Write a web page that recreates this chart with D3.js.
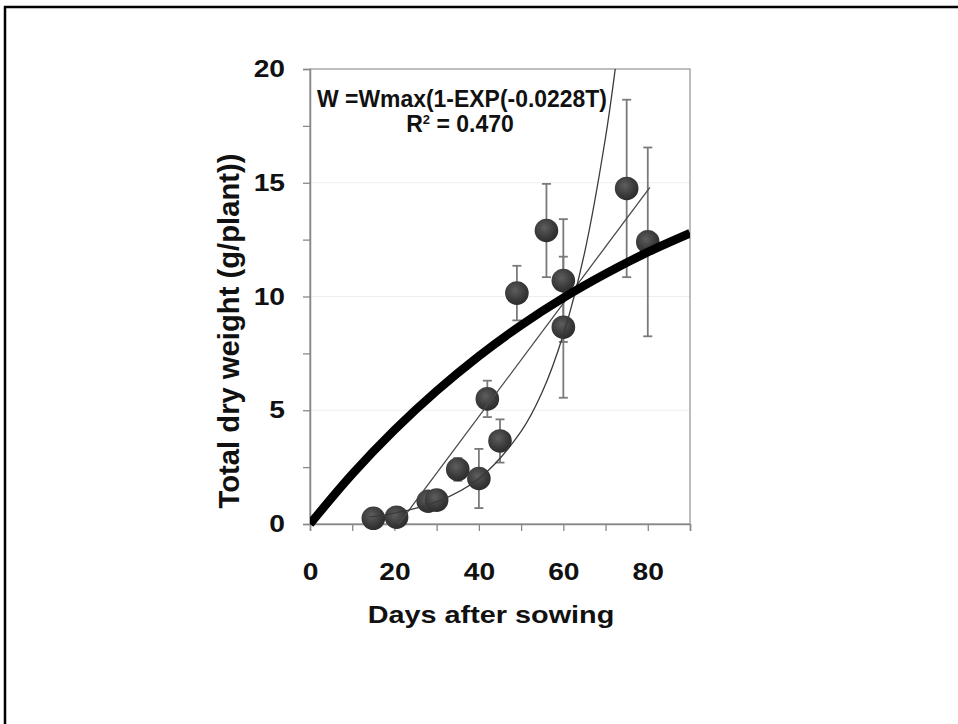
<!DOCTYPE html>
<html><head><meta charset="utf-8">
<script src="https://cdn.jsdelivr.net/npm/d3@7"></script>
<style>
body{margin:0;background:#fff}
svg{display:block}
text{font-family:"Liberation Sans",Arial,sans-serif;font-weight:bold;fill:#111}
</style>
</head><body><svg id="c" width="958" height="724"></svg>
<script>
// ---- data ----
const days   = [15, 20.5, 28, 30, 35, 40, 42, 45, 49, 56, 60, 60, 75, 80];
const weight = [0.25, 0.3, 1.0, 1.05, 2.4, 2.0, 5.5, 3.65, 10.15, 12.9, 10.7, 8.65, 14.75, 12.4];
const sd     = [0, 0, 0, 0, 0.5, 1.3, 0.8, 0.95, 1.2, 2.05, 2.7, 3.1, 3.9, 4.15];
const fitDays   = [0, 10, 20, 30, 40, 50, 60, 70, 80, 90];
const fitWeight = [0, 2.19, 4.13, 5.85, 7.38, 8.74, 9.94, 11.0, 11.95, 12.78];
const expDays   = [14, 20, 30, 40, 50, 55, 60, 65, 70, 72.5];
const expWeight = [0.31, 0.48, 0.97, 1.99, 4.07, 5.8, 8.33, 11.9, 17.0, 20.3];
const linDays   = [21, 80.5];
const linWeight = [0, 14.8];
const xTicks = [0, 20, 40, 60, 80];
const yTicks = [0, 5, 10, 15, 20];
const xTitle = "Days after sowing";
const yTitle = "Total dry weight (g/plant))";
const eqText = "W =Wmax(1-EXP(-0.0228T)";
const r2Value = "0.470";

// ---- layout ----
const svg = d3.select("#c");
const L = 310, R = 690, T = 69, B = 524;
const x = d3.scaleLinear().domain([0, 90]).range([L, R]);
const y = d3.scaleLinear().domain([0, 20]).range([B, T]);
const SX = 1.2; // horizontal stretch of the source image text

// outer frame (cut at right/bottom)
svg.append("line").attr("x1", 4).attr("x2", 958).attr("y1", 7).attr("y2", 7).attr("stroke", "#000").attr("stroke-width", 2.5);
svg.append("line").attr("x1", 5).attr("x2", 5).attr("y1", 6).attr("y2", 724).attr("stroke", "#000").attr("stroke-width", 2.5);

const defs = svg.append("defs");
defs.append("clipPath").attr("id", "plotclip").append("rect")
  .attr("x", L).attr("y", T).attr("width", R - L).attr("height", B - T + 6);
const g1 = defs.append("radialGradient").attr("id", "ball").attr("cx", "42%").attr("cy", "38%").attr("r", "62%");
g1.append("stop").attr("offset", "0%").attr("stop-color", "#5e5e5e");
g1.append("stop").attr("offset", "65%").attr("stop-color", "#3b3b3b");
g1.append("stop").attr("offset", "100%").attr("stop-color", "#2c2c2c");
defs.append("filter").attr("id", "soft").append("feGaussianBlur").attr("stdDeviation", 0.7);

// gridlines
svg.append("g").selectAll("line").data(yTicks.filter(d => d > 0 && d < 20)).join("line")
  .attr("x1", L).attr("x2", R).attr("y1", d => y(d)).attr("y2", d => y(d))
  .attr("stroke", "#eeeeee").attr("stroke-width", 1);

// plot frame
svg.append("rect").attr("x", L).attr("y", T).attr("width", R - L).attr("height", B - T)
  .attr("fill", "none").attr("stroke", "#9a9a9a").attr("stroke-width", 1.3);

// axes
const minorY = d3.range(0, 20.01, 2.5);
const yAxis = svg.append("g").attr("transform", `translate(${L},0)`)
  .call(d3.axisLeft(y).tickValues(minorY).tickSize(7).tickPadding(18)
    .tickFormat(d => yTicks.includes(d) ? d : ""));
const xAxis = svg.append("g").attr("transform", `translate(0,${B})`)
  .call(d3.axisBottom(x).tickValues(d3.range(0, 90.01, 10)).tickSize(7).tickPadding(32)
    .tickFormat(d => xTicks.includes(d) ? d : ""));
[yAxis, xAxis].forEach(a => {
  a.select(".domain").attr("stroke", "#888").attr("stroke-width", 1.5);
  a.selectAll(".tick line").attr("stroke", "#888").attr("stroke-width", 1.3);
  a.selectAll(".tick text").attr("font-size", 23.5).attr("fill", "#111")
    .style("font-family", '"Liberation Sans",Arial,sans-serif').style("font-weight", "bold")
    .each(function () {
      const w = this.getComputedTextLength();
      if (w > 0) d3.select(this).attr("textLength", w * SX).attr("lengthAdjust", "spacingAndGlyphs");
    });
});

// axis titles
const xt = svg.append("text").attr("x", (L + R) / 2 - 9).attr("y", 623).attr("text-anchor", "middle")
  .attr("font-size", 24).text(xTitle);
xt.attr("textLength", xt.node().getComputedTextLength() * SX).attr("lengthAdjust", "spacingAndGlyphs");
svg.append("text").attr("transform", "translate(239,331) rotate(-90)").attr("text-anchor", "middle")
  .attr("font-size", 29).attr("textLength", 355).attr("lengthAdjust", "spacingAndGlyphs").text(yTitle);

// error bars
const pts = days.map((d, i) => ({ d, w: weight[i], e: sd[i] })).filter(p => p.e > 0);
const eb = svg.append("g").attr("stroke", "#7a7a7a").attr("stroke-width", 1.8).attr("fill", "none");
eb.selectAll(".v").data(pts).join("line")
  .attr("x1", p => x(p.d)).attr("x2", p => x(p.d)).attr("y1", p => y(p.w - p.e)).attr("y2", p => y(p.w + p.e));
eb.selectAll(".t").data(pts).join("line")
  .attr("x1", p => x(p.d) - 4.5).attr("x2", p => x(p.d) + 4.5).attr("y1", p => y(p.w + p.e)).attr("y2", p => y(p.w + p.e));
eb.selectAll(".b").data(pts).join("line")
  .attr("x1", p => x(p.d) - 4.5).attr("x2", p => x(p.d) + 4.5).attr("y1", p => y(p.w - p.e)).attr("y2", p => y(p.w - p.e));

// data points
svg.append("g").selectAll("circle").data(days.map((d, i) => ({ d, w: weight[i] }))).join("circle")
  .attr("cx", p => x(p.d)).attr("cy", p => y(p.w)).attr("r", 11.8)
  .attr("fill", "url(#ball)").attr("filter", "url(#soft)");

// curves
const line = d3.line().x(p => x(p[0])).y(p => y(p[1]));
const cg = svg.append("g").attr("clip-path", "url(#plotclip)").attr("fill", "none");
cg.append("path").datum(linDays.map((d, i) => [d, linWeight[i]]))
  .attr("d", line).attr("stroke", "#4a4a4a").attr("stroke-width", 1.3);
cg.append("path").datum(expDays.map((d, i) => [d, expWeight[i]]))
  .attr("d", line.curve(d3.curveCatmullRom)).attr("stroke", "#3a3a3a").attr("stroke-width", 1.3);
cg.append("path").datum(fitDays.map((d, i) => [d, fitWeight[i]]))
  .attr("d", line.curve(d3.curveCatmullRom)).attr("stroke", "#000").attr("stroke-width", 8.5);

// equation labels
svg.append("text").attr("x", 462).attr("y", 106.5).attr("text-anchor", "middle")
  .attr("font-size", 23.5).attr("textLength", 290).attr("lengthAdjust", "spacingAndGlyphs").text(eqText);
const r2 = svg.append("text").attr("x", 460).attr("y", 132).attr("text-anchor", "middle").attr("font-size", 23);
r2.append("tspan").text("R");
r2.append("tspan").attr("font-size", 13).attr("dy", -8).text("2");
r2.append("tspan").attr("dy", 8).text(" = " + r2Value);
</script>
</body></html>
